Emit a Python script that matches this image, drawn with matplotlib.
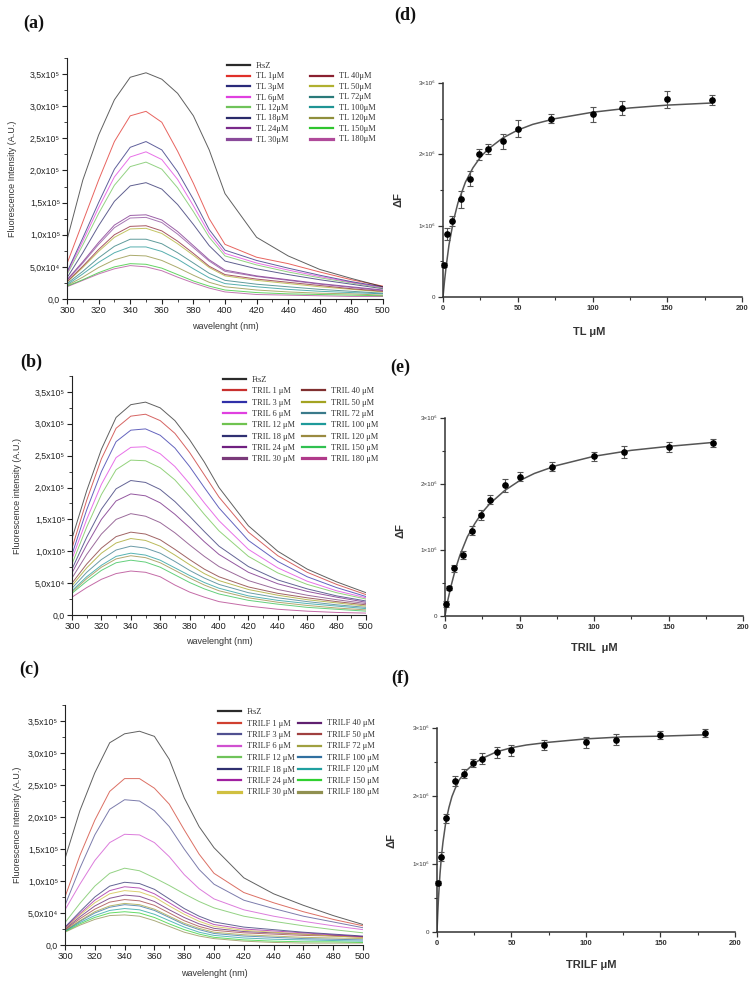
import matplotlib.pyplot as plt
import numpy as np
from matplotlib.lines import Line2D
from matplotlib.ticker import MultipleLocator

W, H = 752, 984

# ---- emission spectra (values in units of 1e5 A.U.) ----
wl = [300, 310, 320, 330, 340, 350, 360, 370, 380, 390, 400, 420, 440, 460, 480, 500]

tl_labels = ["FtsZ", "TL 1μM", "TL 3μM", "TL 6μM", "TL 12μM", "TL 18μM", "TL 24μM", "TL 30μM",
             "TL 40μM", "TL 50μM", "TL 72μM", "TL 100μM", "TL 120μM", "TL 150μM", "TL 180μM"]
tl_colors = ["#2b2b2b", "#e0302a", "#2a2a7a", "#e040e0", "#6fc35a", "#2a2a6a", "#7a2a8a", "#8a4a9a",
             "#8a2030", "#b0b030", "#2a7a7a", "#1f9494", "#8f8f3c", "#2fc52f", "#b04a9a"]
tl_spectra = [
    [0.92, 1.85, 2.55, 3.10, 3.45, 3.52, 3.42, 3.20, 2.85, 2.32, 1.64, 0.96, 0.67, 0.46, 0.32, 0.19],
    [0.55, 1.20, 1.85, 2.45, 2.85, 2.92, 2.75, 2.30, 1.80, 1.25, 0.85, 0.65, 0.55, 0.42, 0.30, 0.20],
    [0.42, 0.95, 1.50, 2.02, 2.36, 2.45, 2.32, 1.98, 1.55, 1.08, 0.76, 0.60, 0.48, 0.37, 0.27, 0.19],
    [0.40, 0.90, 1.42, 1.90, 2.21, 2.29, 2.17, 1.86, 1.45, 1.02, 0.71, 0.56, 0.45, 0.35, 0.26, 0.18],
    [0.38, 0.84, 1.33, 1.77, 2.06, 2.13, 2.02, 1.73, 1.36, 0.96, 0.67, 0.53, 0.42, 0.33, 0.25, 0.17],
    [0.33, 0.72, 1.14, 1.52, 1.76, 1.81, 1.71, 1.47, 1.16, 0.83, 0.59, 0.47, 0.38, 0.30, 0.23, 0.16],
    [0.30, 0.58, 0.88, 1.15, 1.30, 1.31, 1.23, 1.05, 0.83, 0.61, 0.45, 0.36, 0.30, 0.24, 0.19, 0.14],
    [0.29, 0.56, 0.85, 1.11, 1.26, 1.27, 1.19, 1.01, 0.80, 0.59, 0.43, 0.35, 0.29, 0.23, 0.18, 0.13],
    [0.27, 0.51, 0.77, 1.00, 1.13, 1.14, 1.06, 0.90, 0.71, 0.51, 0.38, 0.31, 0.26, 0.21, 0.16, 0.12],
    [0.26, 0.49, 0.74, 0.96, 1.09, 1.10, 1.02, 0.86, 0.68, 0.49, 0.36, 0.29, 0.24, 0.19, 0.15, 0.11],
    [0.24, 0.43, 0.64, 0.82, 0.93, 0.93, 0.86, 0.72, 0.56, 0.40, 0.29, 0.23, 0.19, 0.15, 0.12, 0.09],
    [0.22, 0.39, 0.57, 0.72, 0.81, 0.81, 0.74, 0.62, 0.47, 0.33, 0.24, 0.19, 0.15, 0.12, 0.10, 0.08],
    [0.21, 0.34, 0.49, 0.61, 0.68, 0.67, 0.60, 0.49, 0.37, 0.26, 0.19, 0.14, 0.11, 0.09, 0.08, 0.06],
    [0.20, 0.30, 0.41, 0.50, 0.55, 0.54, 0.48, 0.38, 0.28, 0.20, 0.14, 0.10, 0.08, 0.07, 0.06, 0.05],
    [0.19, 0.29, 0.39, 0.47, 0.52, 0.50, 0.44, 0.34, 0.25, 0.17, 0.11, 0.07, 0.06, 0.05, 0.04, 0.04],
]

tril_labels = ["FtsZ", "TRIL 1 μM", "TRIL 3 μM", "TRIL 6 μM", "TRIL 12 μM", "TRIL 18 μM", "TRIL 24 μM",
               "TRIL 30 μM", "TRIL 40 μM", "TRIL 50 μM", "TRIL 72 μM", "TRIL 100 μM", "TRIL 120 μM",
               "TRIL 150 μM", "TRIL 180 μM"]
tril_colors = ["#2b2b2b", "#c8302e", "#3030a8", "#e040e0", "#6fc350", "#303072", "#702080", "#7a3a7a",
               "#803030", "#a3a322", "#3a7a8a", "#1e9a9a", "#9a8a40", "#30c050", "#b03a8a"]
tril_spectra = [
    [1.20, 1.95, 2.60, 3.10, 3.30, 3.34, 3.25, 3.05, 2.75, 2.40, 2.00, 1.40, 1.00, 0.72, 0.52, 0.35],
    [1.05, 1.80, 2.45, 2.93, 3.12, 3.15, 3.05, 2.85, 2.55, 2.20, 1.85, 1.30, 0.93, 0.67, 0.48, 0.32],
    [0.95, 1.65, 2.25, 2.72, 2.90, 2.92, 2.82, 2.62, 2.33, 2.00, 1.68, 1.17, 0.84, 0.60, 0.43, 0.29],
    [0.88, 1.50, 2.05, 2.47, 2.63, 2.64, 2.53, 2.33, 2.06, 1.76, 1.48, 1.03, 0.74, 0.53, 0.38, 0.27],
    [0.80, 1.38, 1.89, 2.28, 2.43, 2.42, 2.31, 2.12, 1.86, 1.58, 1.32, 0.92, 0.66, 0.48, 0.35, 0.25],
    [0.72, 1.22, 1.66, 1.98, 2.11, 2.08, 1.97, 1.78, 1.55, 1.31, 1.08, 0.76, 0.55, 0.41, 0.30, 0.22],
    [0.66, 1.10, 1.50, 1.79, 1.90, 1.87, 1.76, 1.58, 1.37, 1.15, 0.95, 0.67, 0.49, 0.37, 0.28, 0.20],
    [0.58, 0.95, 1.27, 1.50, 1.59, 1.55, 1.45, 1.29, 1.10, 0.92, 0.76, 0.54, 0.40, 0.31, 0.24, 0.18],
    [0.50, 0.80, 1.05, 1.23, 1.30, 1.27, 1.18, 1.03, 0.87, 0.72, 0.60, 0.44, 0.34, 0.27, 0.21, 0.16],
    [0.46, 0.74, 0.97, 1.13, 1.20, 1.17, 1.08, 0.94, 0.79, 0.65, 0.54, 0.40, 0.31, 0.24, 0.19, 0.14],
    [0.42, 0.67, 0.87, 1.02, 1.08, 1.05, 0.97, 0.84, 0.70, 0.58, 0.48, 0.35, 0.27, 0.21, 0.16, 0.12],
    [0.38, 0.60, 0.78, 0.92, 0.97, 0.94, 0.86, 0.74, 0.62, 0.51, 0.42, 0.30, 0.23, 0.18, 0.14, 0.10],
    [0.36, 0.57, 0.75, 0.88, 0.93, 0.90, 0.82, 0.70, 0.58, 0.47, 0.38, 0.27, 0.20, 0.15, 0.11, 0.08],
    [0.34, 0.53, 0.70, 0.82, 0.86, 0.83, 0.75, 0.63, 0.51, 0.41, 0.33, 0.23, 0.17, 0.12, 0.09, 0.06],
    [0.28, 0.43, 0.56, 0.65, 0.69, 0.67, 0.60, 0.47, 0.36, 0.28, 0.21, 0.14, 0.09, 0.06, 0.04, 0.03],
]

trilf_labels = ["FtsZ", "TRILF 1 μM", "TRILF 3 μM", "TRILF 6 μM", "TRILF 12 μM", "TRILF 18 μM",
                "TRILF 24 μM", "TRILF 30 μM", "TRILF 40 μM", "TRILF 50 μM", "TRILF 72 μM",
                "TRILF 100 μM", "TRILF 120 μM", "TRILF 150 μM", "TRILF 180 μM"]
trilf_colors = ["#2b2b2b", "#d04030", "#505090", "#d050d0", "#6fc35a", "#303070", "#a020a0", "#d0c040",
                "#602070", "#a04040", "#a0a040", "#3070a0", "#20a0a0", "#30d030", "#909050"]
trilf_spectra = [
    [1.35, 2.10, 2.69, 3.16, 3.30, 3.34, 3.26, 2.90, 2.30, 1.85, 1.52, 1.05, 0.80, 0.62, 0.46, 0.32],
    [0.75, 1.40, 1.95, 2.40, 2.60, 2.60, 2.45, 2.20, 1.80, 1.42, 1.12, 0.82, 0.66, 0.52, 0.40, 0.30],
    [0.62, 1.20, 1.72, 2.12, 2.27, 2.25, 2.10, 1.85, 1.50, 1.18, 0.95, 0.70, 0.57, 0.45, 0.36, 0.27],
    [0.55, 0.95, 1.32, 1.60, 1.73, 1.72, 1.60, 1.38, 1.10, 0.88, 0.72, 0.55, 0.45, 0.37, 0.30, 0.24],
    [0.35, 0.65, 0.92, 1.12, 1.20, 1.16, 1.05, 0.93, 0.80, 0.68, 0.58, 0.45, 0.37, 0.30, 0.24, 0.19],
    [0.28, 0.52, 0.75, 0.92, 0.98, 0.96, 0.87, 0.72, 0.57, 0.45, 0.36, 0.28, 0.24, 0.20, 0.17, 0.14],
    [0.27, 0.49, 0.70, 0.85, 0.91, 0.89, 0.80, 0.66, 0.52, 0.41, 0.32, 0.25, 0.22, 0.19, 0.16, 0.13],
    [0.26, 0.47, 0.66, 0.80, 0.85, 0.83, 0.75, 0.61, 0.48, 0.37, 0.29, 0.23, 0.20, 0.17, 0.14, 0.12],
    [0.25, 0.44, 0.61, 0.73, 0.78, 0.76, 0.68, 0.55, 0.43, 0.33, 0.26, 0.21, 0.19, 0.17, 0.15, 0.13],
    [0.24, 0.41, 0.56, 0.67, 0.71, 0.69, 0.62, 0.50, 0.38, 0.29, 0.23, 0.19, 0.17, 0.15, 0.14, 0.12],
    [0.23, 0.38, 0.52, 0.61, 0.65, 0.63, 0.56, 0.45, 0.34, 0.26, 0.20, 0.16, 0.14, 0.12, 0.11, 0.10],
    [0.22, 0.37, 0.50, 0.59, 0.63, 0.61, 0.54, 0.43, 0.32, 0.24, 0.18, 0.14, 0.12, 0.10, 0.09, 0.08],
    [0.22, 0.35, 0.46, 0.54, 0.57, 0.55, 0.48, 0.38, 0.28, 0.20, 0.15, 0.11, 0.09, 0.08, 0.07, 0.06],
    [0.21, 0.33, 0.43, 0.50, 0.52, 0.50, 0.43, 0.33, 0.24, 0.17, 0.12, 0.08, 0.06, 0.05, 0.05, 0.04],
    [0.20, 0.31, 0.40, 0.46, 0.47, 0.45, 0.38, 0.29, 0.20, 0.14, 0.10, 0.06, 0.04, 0.03, 0.03, 0.03],
]

spec_yticks = [0, 0.5, 1.0, 1.5, 2.0, 2.5, 3.0, 3.5]
spec_yticklabels = ["0,0", "5,0x10⁴", "1,0x10⁵", "1,5x10⁵", "2,0x10⁵", "2,5x10⁵", "3,0x10⁵", "3,5x10⁵"]

# ---- binding curves (values in units of 1e6) ----
conc = [1, 3, 6, 12, 18, 24, 30, 40, 50, 72, 100, 120, 150, 180]
tl_dF = [0.45, 0.885, 1.07, 1.37, 1.66, 2.00, 2.07, 2.18, 2.36, 2.50, 2.56, 2.65, 2.77, 2.76]
tl_err = [0.03, 0.08, 0.07, 0.12, 0.10, 0.08, 0.07, 0.10, 0.12, 0.06, 0.10, 0.10, 0.12, 0.07]
tril_dF = [0.18, 0.42, 0.72, 0.93, 1.29, 1.53, 1.76, 1.98, 2.11, 2.26, 2.42, 2.49, 2.56, 2.62]
tril_err = [0.04, 0.03, 0.06, 0.06, 0.07, 0.07, 0.07, 0.10, 0.07, 0.07, 0.07, 0.09, 0.07, 0.06]
trilf_dF = [0.72, 1.11, 1.67, 2.22, 2.33, 2.48, 2.55, 2.64, 2.67, 2.75, 2.79, 2.83, 2.90, 2.93]
trilf_err = [0.03, 0.07, 0.06, 0.08, 0.07, 0.06, 0.08, 0.08, 0.08, 0.07, 0.08, 0.08, 0.06, 0.06]

tl_fit_x = [0, 1, 2, 4, 7, 10, 15, 20, 25, 30, 40, 50, 60, 75, 100, 125, 150, 180]
tl_fit_y = [0, 0.22, 0.41, 0.73, 1.07, 1.32, 1.61, 1.81, 1.96, 2.07, 2.23, 2.34, 2.42, 2.50, 2.59, 2.65, 2.69, 2.72]
tril_fit_x = [0, 1, 2, 4, 7, 10, 15, 20, 25, 30, 40, 50, 60, 75, 100, 125, 150, 180]
tril_fit_y = [0, 0.13, 0.25, 0.45, 0.71, 0.92, 1.20, 1.40, 1.57, 1.70, 1.90, 2.05, 2.16, 2.28, 2.42, 2.51, 2.57, 2.63]
trilf_fit_x = [0, 0.5, 1, 2, 3, 4, 6, 8, 10, 12, 15, 20, 25, 30, 40, 50, 60, 75, 100, 125, 150, 180]
trilf_fit_y = [0, 0.27, 0.50, 0.85, 1.12, 1.32, 1.63, 1.83, 1.99, 2.10, 2.24, 2.38, 2.48, 2.55, 2.65, 2.71,
               2.75, 2.79, 2.84, 2.87, 2.88, 2.90]

bind_yticks = [0, 1, 2, 3]
bind_yticklabels = ["0", "1×10⁶", "2×10⁶", "3×10⁶"]

SANS = ["Liberation Sans", "DejaVu Sans"]
SERIF = ["Liberation Serif", "DejaVu Serif"]
LEG_SIZE = 6

fig = plt.figure(figsize=(W / 100, H / 100), dpi=100)


def rect(l, t, r, b):
    return [l / W, 1 - b / H, (r - l) / W, (b - t) / H]


def spectra_panel(box, spectra, labels, colors, ylab, leg_x1, leg_x2, leg_y, step, ylab_x, xlab_y):
    ax = fig.add_axes(rect(*box))
    for vals, c in zip(spectra[::-1], colors[::-1]):
        ax.plot(wl, vals, color=c, lw=0.7, alpha=0.75)
    ax.set_xlim(300, 500)
    ax.set_ylim(0, 3.75)
    for s in ["top", "right"]:
        ax.spines[s].set_visible(False)
    for s in ["left", "bottom"]:
        ax.spines[s].set_linewidth(0.8)
        ax.spines[s].set_color("#222222")
    ax.xaxis.set_major_locator(MultipleLocator(20))
    ax.xaxis.set_minor_locator(MultipleLocator(10))
    ax.set_yticks(spec_yticks)
    ax.set_yticklabels(spec_yticklabels, family=SANS, fontsize=6.3)
    ax.yaxis.set_minor_locator(MultipleLocator(0.25))
    for lab in ax.get_xticklabels():
        lab.set_family(SANS)
        lab.set_fontsize(6.8)
    ax.tick_params(which="major", direction="out", length=3.5, width=0.8, pad=1.5, colors="#222222")
    ax.tick_params(which="minor", direction="out", length=2, width=0.6, colors="#222222")
    ax.text(ylab_x, 0.5, ylab, transform=ax.transAxes, rotation=90, ha="center", va="center",
            family=SANS, fontsize=6.5, color="#333333")
    ax.text(0.5, xlab_y, "wavelenght (nm)", transform=ax.transAxes, ha="center", va="center",
            family=SANS, fontsize=6.5, color="#333333")

    # legend in two columns, the second one starting one row lower
    handles = [Line2D([], [], color=c, lw=1.6) for c in colors]
    handles[7].set_linewidth(2.3)
    handles[14].set_linewidth(2.3)
    kw = dict(loc="upper left", frameon=False, borderpad=0, borderaxespad=0,
              handlelength=2.7, handletextpad=0.8, labelspacing=step,
              prop=dict(family=SERIF, size=LEG_SIZE), bbox_transform=fig.transFigure)
    leg1 = ax.legend(handles[:8], labels[:8], bbox_to_anchor=(leg_x1 / W, 1 - leg_y / H), **kw)
    for t in leg1.get_texts():
        t.set_color("#333333")
    ax.add_artist(leg1)
    row = (LEG_SIZE / 72 * 100) * (0.95 + step)
    leg2 = ax.legend(handles[8:], labels[8:], bbox_to_anchor=(leg_x2 / W, 1 - (leg_y + row) / H), **kw)
    for t in leg2.get_texts():
        t.set_color("#333333")
    return ax


def binding_panel(box, y, err, fit_x, fit_y, xlab, ylab_pos, xlab_pos):
    ax = fig.add_axes(rect(*box))
    ax.plot(fit_x, fit_y, color="#555555", lw=1.1, zorder=2)
    ax.errorbar(conc, y, yerr=err, fmt="o", color="black", ms=3.8, ecolor="#555555",
                elinewidth=0.8, capsize=2.2, capthick=0.8, zorder=3, clip_on=False)
    ax.set_xlim(0, 200)
    ax.set_ylim(0, 3)
    for s in ["top", "right"]:
        ax.spines[s].set_visible(False)
    for s in ["left", "bottom"]:
        ax.spines[s].set_linewidth(1.1)
        ax.spines[s].set_color("#333333")
    ax.xaxis.set_major_locator(MultipleLocator(50))
    ax.xaxis.set_minor_locator(MultipleLocator(25))
    ax.set_yticks(bind_yticks)
    ax.set_yticklabels(bind_yticklabels, family=SANS, fontsize=4.5)
    ax.yaxis.set_minor_locator(MultipleLocator(0.5))
    for lab in ax.get_xticklabels():
        lab.set_family(SANS)
        lab.set_fontsize(5.5)
        lab.set_fontweight("bold")
    ax.tick_params(which="major", direction="out", length=3.5, width=0.9, pad=2, colors="#333333")
    ax.tick_params(which="minor", direction="out", length=2.5, width=0.8, colors="#333333")
    ax.text(ylab_pos[0], ylab_pos[1], "ΔF", transform=ax.transAxes, rotation=90, ha="center",
            va="center", family=SANS, fontsize=8, fontweight="bold", color="#333333")
    ax.text(xlab_pos[0], xlab_pos[1], xlab, transform=ax.transAxes, ha="center", va="center",
            family=SANS, fontsize=8, fontweight="bold", color="#333333")
    return ax


spectra_panel((67, 58, 383, 299), tl_spectra, tl_labels, tl_colors, "Fluorescence Intensity (A.U.)",
              227, 310, 62, 0.30, -0.171, -0.116)
spectra_panel((72, 376, 366, 615), tril_spectra, tril_labels, tril_colors, "Fluorescence intensity (A.U.)",
              223, 302, 376, 0.40, -0.184, -0.1125)
spectra_panel((65, 705, 363, 945), trilf_spectra, trilf_labels, trilf_colors, "Fluorescence Intensity (A.U.)",
              218, 298, 708, 0.42, -0.161, -0.117)

binding_panel((443, 83, 742, 297), tl_dF, tl_err, tl_fit_x, tl_fit_y, "TL μM", (-0.15, 0.453), (0.488, -0.164))
binding_panel((445, 418, 743, 616), tril_dF, tril_err, tril_fit_x, tril_fit_y, "TRIL  μM", (-0.148, 0.434), (0.5, -0.162))
binding_panel((437, 728, 735, 932), trilf_dF, trilf_err, trilf_fit_x, trilf_fit_y, "TRILF μM", (-0.154, 0.45), (0.517, -0.162))

panel_tags = ["(a)", "(d)", "(b)", "(e)", "(c)", "(f)"]
tag_pos = [(34, 23), (405, 15), (31, 362), (400, 367), (29, 669), (400, 678)]
for tag, (x, y) in zip(panel_tags, tag_pos):
    fig.text(x / W, 1 - y / H, tag, ha="center", va="center", family=SERIF, fontsize=13,
             fontweight="bold", color="#111111")

fig.savefig("out.png", dpi=100)
